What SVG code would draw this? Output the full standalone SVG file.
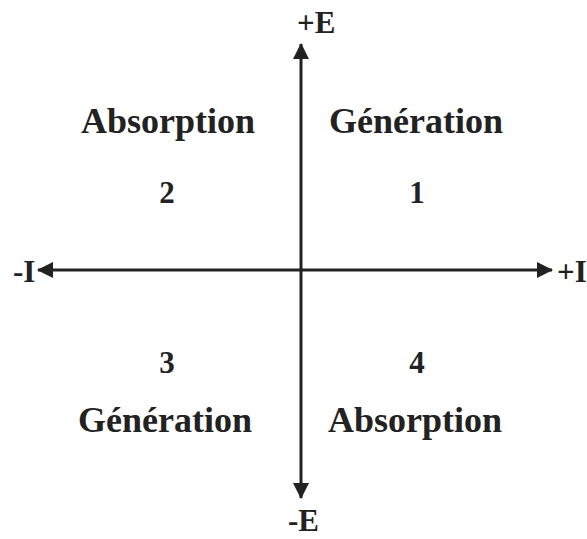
<svg xmlns="http://www.w3.org/2000/svg" width="587" height="539" viewBox="0 0 587 539">
<style>
.t{font-family:"Liberation Serif","Times New Roman",serif;font-weight:bold;fill:#222;}
.big{font-size:36px;text-anchor:middle;}
.ax{font-size:31px;}
.num{font-size:31px;text-anchor:middle;}
.axis{stroke:#222;stroke-width:3;fill:none;}
</style>
<defs>
<marker id="ah" viewBox="0 0 16 16" refX="15" refY="8" markerWidth="16" markerHeight="16" markerUnits="userSpaceOnUse" orient="auto">
<path d="M0,0 L16,8 L0,16 Z" fill="#222"/>
</marker>
</defs>
<rect width="587" height="539" fill="#fff"/>
<g id="connectors">
<line class="axis" x1="301" y1="270" x2="301" y2="44" marker-end="url(#ah)"/>
<line class="axis" x1="301" y1="270" x2="301" y2="498" marker-end="url(#ah)"/>
<line class="axis" x1="301" y1="270" x2="38" y2="270" marker-end="url(#ah)"/>
<line class="axis" x1="301" y1="270" x2="552" y2="270" marker-end="url(#ah)"/>
</g>
<g id="axis-labels">
<text class="t ax" x="297" y="33">+E</text>
<text class="t ax" x="288" y="531">-E</text>
<text class="t ax" x="13" y="282">-I</text>
<text class="t ax" x="557" y="282">+I</text>
</g>
<g id="q1"><text class="t big" x="416" y="133">Génération</text><text class="t num" x="417" y="203">1</text></g>
<g id="q2"><text class="t big" x="168" y="133">Absorption</text><text class="t num" x="167" y="203">2</text></g>
<g id="q3"><text class="t num" x="167" y="373">3</text><text class="t big" x="165" y="432">Génération</text></g>
<g id="q4"><text class="t num" x="417" y="373">4</text><text class="t big" x="415" y="432">Absorption</text></g>
</svg>
